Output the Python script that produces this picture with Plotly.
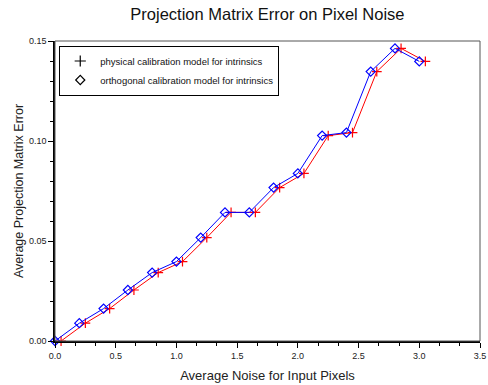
import plotly.graph_objects as go

# Data
noise_orth = [0.0, 0.2, 0.4, 0.6, 0.8, 1.0, 1.2, 1.4, 1.6, 1.8, 2.0, 2.2, 2.4, 2.6, 2.8, 3.0]
err_orth = [0.000, 0.0089, 0.0162, 0.0255, 0.0342, 0.0397, 0.0517, 0.0643, 0.0643,
            0.0767, 0.0838, 0.1027, 0.1042, 0.1347, 0.1463, 0.1398]
noise_phys = [0.05, 0.25, 0.45, 0.65, 0.85, 1.05, 1.25, 1.45, 1.65, 1.85, 2.05, 2.25, 2.45, 2.65, 2.85, 3.05]
err_phys = [0.000, 0.0089, 0.0162, 0.0255, 0.0342, 0.0397, 0.0517, 0.0643, 0.0643,
            0.0767, 0.0838, 0.1027, 0.1042, 0.1347, 0.1463, 0.1398]
x_ticks = [0.0, 0.5, 1.0, 1.5, 2.0, 2.5, 3.0, 3.5]
x_tick_text = ["0.0", "0.5", "1.0", "1.5", "2.0", "2.5", "3.0", "3.5"]
y_ticks = [0.00, 0.05, 0.10, 0.15]
y_tick_text = ["0.00", "0.05", "0.10", "0.15"]
legend_names = ["physical calibration model for intrinsics",
                "orthogonal calibration model for intrinsics"]

FONT = "Liberation Sans, Arial, sans-serif"

fig = go.Figure()
fig.add_trace(go.Scatter(x=noise_phys, y=err_phys, mode="lines+markers",
                         line=dict(color="#ff0000", width=1),
                         marker=dict(symbol="cross-thin", size=7,
                                     line=dict(color="#ff0000", width=1.2)),
                         showlegend=False, cliponaxis=False))
fig.add_trace(go.Scatter(x=noise_orth, y=err_orth, mode="lines+markers",
                         line=dict(color="#0000ff", width=1),
                         marker=dict(symbol="diamond-open", size=7,
                                     color="#0000ff", line=dict(width=1.2)),
                         showlegend=False, cliponaxis=False))
# legend entries (black symbols only)
fig.add_trace(go.Scatter(x=[None], y=[None], mode="markers", name=legend_names[0],
                         marker=dict(symbol="cross-thin", size=8,
                                     line=dict(color="black", width=1.2))))
fig.add_trace(go.Scatter(x=[None], y=[None], mode="markers", name=legend_names[1],
                         marker=dict(symbol="diamond-open", size=7, color="black",
                                     line=dict(width=1.2))))

axis_common = dict(showgrid=False, zeroline=False, showline=True, linecolor="black",
                   linewidth=1.5, ticks="outside", ticklen=5, tickwidth=1,
                   tickcolor="black", tickfont=dict(size=9, color="#222", family=FONT))

fig.update_xaxes(range=[0, 3.5], tickvals=x_ticks, ticktext=x_tick_text,
                 minor=dict(dtick=0.5 / 3, ticks="outside", ticklen=3, tickcolor="black"),
                 title=dict(text="Average Noise for Input Pixels",
                            font=dict(size=13, color="#222", family=FONT), standoff=11),
                 **axis_common)
fig.update_yaxes(range=[0, 0.15], tickvals=y_ticks, ticktext=y_tick_text,
                 minor=dict(dtick=0.01, ticks="outside", ticklen=3, tickcolor="black"),
                 title=dict(text="Average Projection Matrix Error",
                            font=dict(size=12.5, color="#222", family=FONT), standoff=3),
                 **axis_common)

fig.add_shape(type="rect", xref="paper", yref="paper", x0=0, y0=0, x1=1, y1=1,
              line=dict(color="#555", width=1), layer="above")

fig.update_layout(
    width=488, height=385,
    margin=dict(l=55, r=8, t=41, b=44, autoexpand=False),
    paper_bgcolor="white", plot_bgcolor="white",
    title=dict(text="Projection Matrix Error on Pixel Noise", x=0.548, xanchor="center",
               y=0.963, yanchor="middle",
               font=dict(size=16.5, color="#111", family=FONT)),
    legend=dict(x=0.01, y=0.985, xanchor="left", yanchor="top",
                bgcolor="white", bordercolor="black", borderwidth=1,
                font=dict(size=9.5, color="#111", family=FONT),
                itemwidth=30, tracegroupgap=0),
)

fig.write_html("out.html", config={"displayModeBar": False},
               post_script="document.body.style.margin='0';")
